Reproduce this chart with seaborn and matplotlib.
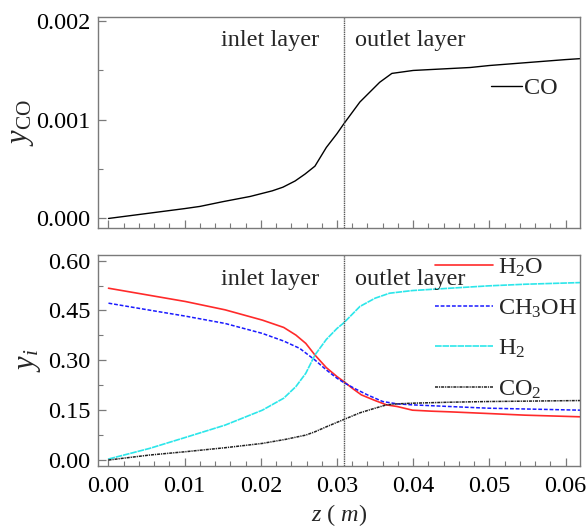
import numpy as np
import pandas as pd
import matplotlib
matplotlib.use("Agg")
import matplotlib.pyplot as plt
import seaborn as sns
from matplotlib.ticker import MultipleLocator, FormatStrFormatter

sns.set_theme(style="white")
plt.rcParams['font.family'] = ['Liberation Serif', 'DejaVu Serif']
plt.rcParams['mathtext.fontset'] = 'custom'
plt.rcParams['mathtext.rm'] = 'Liberation Serif'
plt.rcParams['mathtext.it'] = 'Liberation Serif:italic'
plt.rcParams['mathtext.bf'] = 'Liberation Serif:bold'

# ---- data ----
z_co = [0.0, 0.003, 0.006, 0.010, 0.012, 0.015, 0.0186, 0.0215, 0.0229, 0.0245,
        0.0258, 0.0271, 0.0286, 0.0300, 0.0309, 0.0330, 0.0356, 0.0372, 0.0400,
        0.0450, 0.0475, 0.0500, 0.0550, 0.0600, 0.0620]
y_co = [0.0, 0.00003, 0.00006, 0.00010, 0.000122, 0.00017, 0.000223, 0.00028,
        0.000317, 0.00038, 0.00045, 0.00053, 0.00072, 0.00086, 0.00096, 0.00118,
        0.00138, 0.00147, 0.00150, 0.00152, 0.00153, 0.00155, 0.00158, 0.00161, 0.00162]

z_h2o = [0.0, 0.0101, 0.0153, 0.0202, 0.0230, 0.0246, 0.0259, 0.0271, 0.0286, 0.0300,
         0.0309, 0.0320, 0.0332, 0.0350, 0.0365, 0.0379, 0.0399, 0.0424, 0.0448,
         0.0498, 0.0547, 0.0620]
y_h2o = [0.517, 0.477, 0.452, 0.421, 0.399, 0.376, 0.351, 0.316, 0.278, 0.251,
         0.236, 0.216, 0.196, 0.179, 0.166, 0.161, 0.150, 0.147, 0.145,
         0.140, 0.135, 0.130]

z_ch3oh = [0.0, 0.0054, 0.0101, 0.0153, 0.0202, 0.0230, 0.0251, 0.0271, 0.0286,
           0.0300, 0.0309, 0.0325, 0.0340, 0.0360, 0.0379, 0.0399, 0.0448, 0.0498, 0.0620]
y_ch3oh = [0.472, 0.451, 0.433, 0.411, 0.381, 0.358, 0.336, 0.301, 0.271,
           0.246, 0.233, 0.213, 0.196, 0.176, 0.169, 0.166, 0.161, 0.156, 0.150]

z_h2 = [0.0, 0.0054, 0.0101, 0.0153, 0.0202, 0.0230, 0.0246, 0.0259, 0.0271, 0.0286,
        0.0300, 0.0309, 0.0330, 0.0350, 0.0369, 0.0399, 0.0448, 0.0498, 0.0547, 0.0620]
y_h2 = [0.003, 0.035, 0.068, 0.105, 0.150, 0.186, 0.221, 0.261, 0.316, 0.363,
        0.396, 0.413, 0.462, 0.487, 0.502, 0.510, 0.517, 0.524, 0.529, 0.534]

z_co2 = [0.0, 0.0054, 0.0101, 0.0153, 0.0202, 0.0232, 0.0259, 0.0271, 0.0286, 0.0309,
         0.0330, 0.0350, 0.0365, 0.0379, 0.0399, 0.0448, 0.0498, 0.0620]
y_co2 = [0.0, 0.015, 0.025, 0.037, 0.050, 0.062, 0.075, 0.085, 0.100, 0.122,
         0.142, 0.156, 0.166, 0.169, 0.171, 0.174, 0.176, 0.179]

layer_boundary = 0.0309

fig = plt.figure(figsize=(5.87, 5.31), dpi=100)
ax1 = fig.add_axes([0.1664, 0.5700, 0.8217, 0.3986])
ax2 = fig.add_axes([0.1664, 0.1224, 0.8217, 0.3974])

spine_color = '#7a7a7a'
fs = 17.5

# top panel
sns.lineplot(x=z_co, y=y_co, ax=ax1, color='black', lw=1.0, label='CO')
ax1.axvline(layer_boundary, color='#555555', lw=1.0, ls=(0, (1, 0.6)))
ax1.set_xlim(-0.00142, 0.0619)
ax1.set_ylim(-0.0001, 0.002045)
ax1.yaxis.set_major_locator(MultipleLocator(0.001))
ax1.yaxis.set_minor_locator(MultipleLocator(0.0005))
ax1.yaxis.set_major_formatter(FormatStrFormatter('%.3f'))
ax1.xaxis.set_major_locator(MultipleLocator(0.01))
ax1.xaxis.set_minor_locator(MultipleLocator(0.002))
ax1.set_xticklabels([])
ax1.set_ylabel(r'$y_{\mathrm{CO}}$', fontsize=22, labelpad=0)
ax1.text(0.0212, 0.0018, 'inlet layer', ha='center', va='center', fontsize=fs)
ax1.text(0.0323, 0.0018, 'outlet layer', ha='left', va='center', fontsize=fs)
ax1.legend(loc='center left', bbox_to_anchor=(0.815, 0.663), frameon=False,
           fontsize=fs, handlelength=1.3, handletextpad=0.08, borderpad=0, borderaxespad=0)

# bottom panel
sns.lineplot(x=z_h2o, y=y_h2o, ax=ax2, color='#ff2a2a', lw=1.2, label=r'H$_2$O')
sns.lineplot(x=z_ch3oh, y=y_ch3oh, ax=ax2, color='#1a1aff', lw=1.1, ls=(0, (2.5, 1.2)),
             label=r'CH$_3$OH')
sns.lineplot(x=z_h2, y=y_h2, ax=ax2, color='#2ce6ea', lw=1.2, ls=(0, (4, 0.5)), label=r'H$_2$')
sns.lineplot(x=z_co2, y=y_co2, ax=ax2, color='#222222', lw=1.1,
             ls=(0, (2, 0.6, 0.8, 0.6)), label=r'CO$_2$')
ax2.axvline(layer_boundary, color='#555555', lw=1.0, ls=(0, (1, 0.6)))
ax2.set_xlim(-0.00142, 0.0619)
ax2.set_ylim(-0.018, 0.617)
ax2.yaxis.set_major_locator(MultipleLocator(0.15))
ax2.yaxis.set_minor_locator(MultipleLocator(0.075))
ax2.yaxis.set_major_formatter(FormatStrFormatter('%.2f'))
ax2.xaxis.set_major_locator(MultipleLocator(0.01))
ax2.xaxis.set_minor_locator(MultipleLocator(0.002))
ax2.xaxis.set_major_formatter(FormatStrFormatter('%.2f'))
ax2.set_ylabel(r'$y_i$', fontsize=22, labelpad=4)
ax2.set_xlabel(r'$z$ ( $m$)', fontsize=fs, labelpad=4)
ax2.text(0.0212, 0.542, 'inlet layer', ha='center', va='center', fontsize=fs)
ax2.text(0.0323, 0.544, 'outlet layer', ha='left', va='center', fontsize=fs)
ax2.legend(loc='center left', bbox_to_anchor=(0.699, 0.650), frameon=False,
           fontsize=fs, handlelength=2.4, handletextpad=0.2, labelspacing=0.75,
           borderpad=0, borderaxespad=0)

for ax in (ax1, ax2):
    for s in ax.spines.values():
        s.set_color(spine_color)
        s.set_linewidth(1.0)
    ax.tick_params(which='both', direction='in', colors=spine_color, labelcolor='black',
                   labelsize=fs, top=False, right=False, bottom=True, left=True)
    ax.tick_params(which='major', length=6, width=0.9)
    ax.tick_params(which='minor', length=3.5, width=0.8)
    ax.tick_params(axis='y', which='major', pad=5)
    ax.tick_params(axis='x', which='major', pad=7)
    ax.grid(False)

fig.savefig('out.png', dpi=100)
